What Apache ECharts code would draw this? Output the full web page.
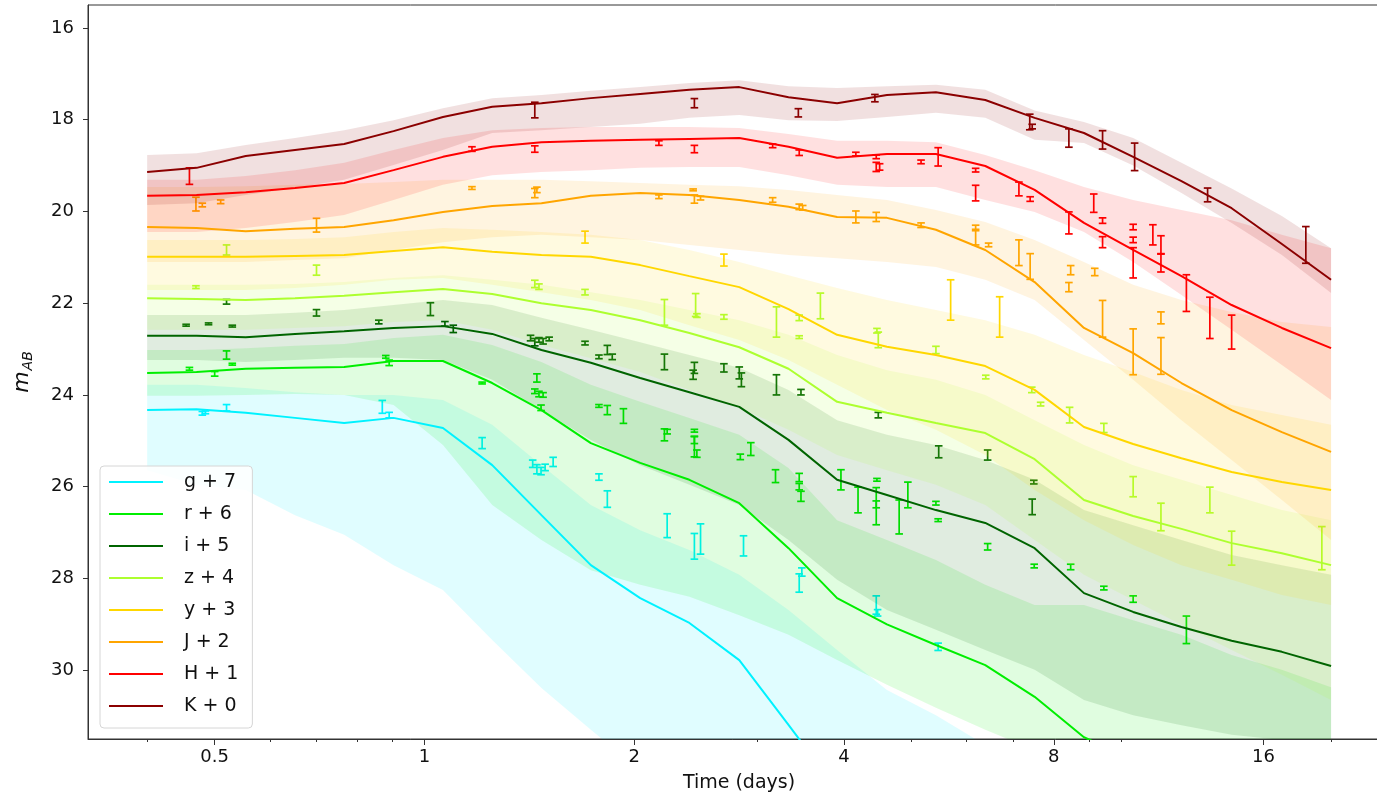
<!DOCTYPE html>
<html>
<head>
<meta charset="utf-8">
<script src="https://cdn.jsdelivr.net/npm/echarts@6/dist/echarts.min.js"></script>
<style>
  html, body { margin: 0; padding: 0; background: #ffffff; }
  #chart { width: 1377px; height: 797px; }
</style>
</head>
<body>
<div id="chart"></div>
<script>
// Model time grid (days)
const times = [0.4, 0.471, 0.554, 0.652, 0.767, 0.903, 1.063, 1.251, 1.472, 1.733, 2.04, 2.4, 2.83, 3.33, 3.91, 4.61, 5.42, 6.38, 7.51, 8.84, 10.4, 12.2, 14.4, 17.0, 20.0];

// Axis ticks
const xMajorTicks = [0.5, 1, 2, 4, 8, 16];
const xMinorTicks = [0.4, 0.6, 0.7, 0.8, 0.9, 3, 5, 6, 7, 9, 10, 20];
const yTicks = [16, 18, 20, 22, 24, 26, 28, 30];

// g + 7
const gLine = [24.33,24.31,24.39,24.50,24.61,24.50,24.72,25.53,26.62,27.71,28.43,28.97,29.78,31.19,32.61,33.48,34.14,34.79,35.45,35.99,36.53,36.97,37.41,37.73,38.06];
const gLow  = [23.78,23.78,23.85,23.94,24.00,24.00,24.11,24.65,25.53,26.40,26.95,27.38,27.92,28.69,29.56,30.43,30.98,31.63,32.28,32.83,33.37,33.92,34.36,34.79,35.23];
const gHigh = [25.64,25.96,26.07,26.62,27.05,27.71,28.25,29.34,30.39,31.30,32.18,33.05,33.92,34.79,35.66,36.53,37.18,37.84,38.49,39.15,39.59,40.02,40.46,40.90,41.34];
const gPts = [[0.48,24.40,0.04],[0.485,24.38,0.03],[0.52,24.28,0.07],[0.87,24.26,0.14],[0.89,24.44,0.06],[1.21,25.05,0.12],[1.43,25.50,0.08],[1.45,25.62,0.10],[1.47,25.66,0.08],[1.49,25.58,0.07],[1.53,25.46,0.10],[1.78,25.79,0.07],[1.83,26.27,0.18],[2.23,26.85,0.26],[2.44,27.30,0.28],[2.49,27.14,0.33],[2.87,27.29,0.22],[3.45,28.10,0.20],[3.48,27.86,0.09],[4.45,28.58,0.20],[4.47,28.75,0.07],[5.46,29.49,0.08]];

// r + 6
const rLine = [23.52,23.50,23.43,23.41,23.39,23.26,23.26,23.74,24.33,25.05,25.48,25.85,26.36,27.34,28.43,29.00,29.45,29.89,30.58,31.46,31.96,32.39,32.83,33.16,33.48];
const rLow  = [23.02,23.02,22.98,22.93,22.89,22.76,22.69,22.91,23.28,23.78,24.15,24.50,24.87,25.59,26.73,27.16,27.60,28.14,28.58,28.58,28.91,29.23,29.67,29.99,30.37];
const rHigh = [24.02,24.02,24.00,23.98,24.00,24.22,25.09,26.40,27.16,27.82,28.14,28.40,28.80,29.23,29.78,30.32,30.82,31.30,31.74,32.18,32.61,33.05,33.48,33.81,34.14];
const rPts = [[0.46,23.43,0.03],[0.50,23.54,0.05],[0.52,23.13,0.09],[0.53,23.33,0.02],[0.88,23.17,0.03],[0.89,23.30,0.06],[1.21,23.74,0.02],[1.45,23.63,0.09],[1.44,23.92,0.05],[1.46,23.98,0.06],[1.48,24.00,0.05],[1.47,24.28,0.06],[1.78,24.24,0.03],[1.83,24.33,0.10],[1.93,24.46,0.16],[2.21,24.87,0.13],[2.23,24.80,0.05],[2.44,24.78,0.03],[2.44,24.98,0.08],[2.44,25.13,0.22],[2.46,25.28,0.08],[2.84,25.35,0.06],[2.94,25.18,0.14],[3.19,25.77,0.14],[3.45,25.80,0.09],[3.45,26.00,0.07],[3.47,26.21,0.11],[3.96,25.85,0.22],[4.19,26.29,0.28],[4.45,26.24,0.22],[4.45,26.57,0.26],[4.46,25.85,0.03],[4.80,26.66,0.37],[4.94,26.18,0.28],[5.42,26.36,0.04],[5.46,26.73,0.03],[6.43,27.31,0.07],[7.50,27.73,0.04],[8.46,27.75,0.06],[9.44,28.21,0.04],[10.4,28.45,0.07],[12.4,29.12,0.30]];

// i + 5
const iLine = [22.71,22.71,22.74,22.67,22.61,22.54,22.50,22.67,23.02,23.30,23.63,23.94,24.26,24.98,25.85,26.18,26.51,26.79,27.34,28.32,28.73,29.06,29.36,29.60,29.91];
const iLow  = [22.26,22.26,22.26,22.21,22.15,22.04,21.93,22.04,22.32,22.58,22.85,23.13,23.41,23.89,24.55,24.87,25.09,25.42,25.85,26.51,26.84,27.16,27.49,27.71,27.92];
const iHigh = [23.24,23.24,23.28,23.24,23.19,23.19,23.24,23.67,24.33,24.98,25.53,25.96,26.40,27.16,28.03,28.69,29.12,29.56,29.99,30.65,30.98,31.20,31.41,31.52,31.63];
const iPts = [[0.455,22.48,0.02],[0.49,22.45,0.02],[0.53,22.50,0.02],[0.52,21.97,0.05],[0.70,22.21,0.07],[0.86,22.41,0.04],[1.02,22.13,0.14],[1.07,22.45,0.05],[1.10,22.56,0.08],[1.42,22.76,0.06],[1.44,22.85,0.08],[1.46,22.80,0.05],[1.48,22.83,0.06],[1.51,22.78,0.04],[1.70,22.87,0.04],[1.78,23.17,0.04],[1.83,23.02,0.10],[1.86,23.17,0.06],[2.21,23.28,0.17],[2.44,23.41,0.12],[2.43,23.56,0.10],[2.69,23.41,0.09],[2.83,23.52,0.13],[2.85,23.67,0.15],[3.20,23.78,0.22],[3.47,23.94,0.06],[4.48,24.44,0.06],[5.47,25.24,0.13],[6.43,25.31,0.11],[7.49,25.90,0.04],[7.45,26.44,0.17]];

// z + 4
const zLine = [21.89,21.91,21.93,21.89,21.84,21.76,21.69,21.80,22.00,22.15,22.37,22.65,22.96,23.43,24.15,24.39,24.61,24.83,25.40,26.29,26.64,26.92,27.23,27.45,27.71];
const zLow  = [21.60,21.60,21.60,21.58,21.54,21.45,21.39,21.49,21.60,21.76,21.93,22.15,22.37,22.69,23.13,23.46,23.67,24.00,24.55,25.09,25.53,25.85,26.18,26.51,26.73];
const zHigh = [22.58,22.58,22.58,22.54,22.50,22.41,22.37,22.58,22.91,23.20,23.50,23.89,24.28,24.76,25.31,25.64,25.96,26.40,27.16,27.92,28.47,29.01,29.56,30.10,30.65];
const zPts = [[0.47,21.65,0.03],[0.52,20.84,0.11],[0.70,21.28,0.11],[1.44,21.58,0.08],[1.46,21.64,0.06],[1.70,21.76,0.06],[2.21,22.20,0.28],[2.45,22.04,0.25],[2.46,22.27,0.04],[2.69,22.30,0.05],[3.20,22.41,0.33],[3.45,22.32,0.06],[3.45,22.74,0.03],[3.70,22.06,0.28],[4.48,22.80,0.17],[4.46,22.60,0.05],[5.42,23.02,0.08],[6.39,23.61,0.04],[7.44,23.89,0.06],[7.66,24.20,0.04],[8.43,24.44,0.17],[9.44,24.72,0.10],[10.4,26.00,0.22],[11.4,26.66,0.30],[13.4,26.29,0.28],[14.4,27.34,0.37],[19.4,27.34,0.47]];

// y + 3
const yLine = [20.99,20.99,20.99,20.97,20.95,20.86,20.78,20.88,20.95,20.99,21.17,21.41,21.65,22.13,22.69,22.95,23.13,23.37,23.89,24.70,25.07,25.38,25.68,25.90,26.07];
const yLow  = [20.62,20.62,20.62,20.60,20.56,20.45,20.36,20.40,20.45,20.51,20.62,20.84,21.10,21.39,21.67,21.93,22.15,22.37,22.69,23.13,23.50,23.89,24.22,24.44,24.65];
const yHigh = [21.71,21.71,21.71,21.67,21.60,21.49,21.45,21.60,21.76,21.93,22.15,22.48,22.80,23.24,23.78,24.33,24.76,25.31,26.07,26.73,27.27,27.71,28.03,28.36,28.58];
const yPts = [[1.70,20.56,0.13],[2.69,21.06,0.13],[5.69,21.93,0.44],[6.69,22.30,0.44]];

// J + 2
const jLine = [20.34,20.36,20.43,20.38,20.34,20.19,20.01,19.88,19.82,19.66,19.60,19.64,19.75,19.90,20.12,20.14,20.40,20.84,21.54,22.54,23.09,23.74,24.33,24.81,25.24];
const jLow  = [19.47,19.47,19.45,19.42,19.40,19.36,19.31,19.31,19.31,19.34,19.38,19.42,19.45,19.53,19.64,19.75,19.97,20.23,20.62,21.10,21.60,21.93,22.19,22.41,22.52];
const jHigh = [21.10,21.10,21.10,21.06,21.02,20.84,20.67,20.56,20.51,20.56,20.62,20.73,20.84,20.95,21.02,21.10,21.21,21.49,21.93,22.80,23.67,24.55,25.42,26.29,27.16];
const jPts = [[0.47,19.84,0.15],[0.48,19.86,0.04],[0.51,19.79,0.04],[0.70,20.30,0.15],[1.17,19.49,0.03],[1.44,19.60,0.10],[1.45,19.53,0.06],[2.17,19.68,0.04],[2.43,19.53,0.02],[2.44,19.73,0.09],[2.49,19.71,0.04],[3.16,19.75,0.05],[3.45,19.90,0.06],[3.49,19.92,0.05],[4.16,20.12,0.13],[4.45,20.12,0.10],[5.16,20.30,0.05],[6.18,20.36,0.06],[6.18,20.56,0.17],[6.45,20.73,0.04],[7.13,20.90,0.28],[7.40,21.20,0.28],[8.46,21.28,0.10],[8.41,21.65,0.10],[9.16,21.32,0.08],[9.40,22.34,0.40],[10.4,23.06,0.50],[11.4,22.32,0.13],[11.4,23.15,0.40]];

// H + 1
const hLine = [19.66,19.64,19.58,19.49,19.38,19.10,18.81,18.59,18.49,18.46,18.44,18.42,18.40,18.59,18.83,18.75,18.75,19.01,19.53,20.25,20.84,21.41,22.04,22.54,22.98];
const hLow  = [19.31,19.31,19.23,19.10,18.94,18.66,18.40,18.23,18.18,18.16,18.16,18.16,18.18,18.31,18.46,18.46,18.49,18.77,19.10,19.47,19.75,19.97,20.19,20.51,20.80];
const hHigh = [20.45,20.45,20.36,20.23,20.08,19.75,19.42,19.21,19.14,19.10,19.05,19.03,19.03,19.21,19.42,19.47,19.47,19.75,20.01,20.45,21.10,21.82,22.58,23.35,24.11];
const hPts = [[0.46,19.23,0.18],[1.17,18.64,0.05],[1.44,18.64,0.07],[2.17,18.51,0.05],[2.44,18.64,0.08],[3.16,18.57,0.04],[3.45,18.72,0.06],[4.16,18.75,0.04],[4.45,18.81,0.04],[4.45,19.03,0.10],[4.50,19.03,0.07],[5.16,18.92,0.04],[5.46,18.81,0.20],[6.18,19.10,0.04],[6.18,19.60,0.17],[7.13,19.51,0.15],[7.40,19.73,0.05],[8.41,20.25,0.24],[9.13,19.82,0.20],[9.40,20.20,0.06],[9.40,20.67,0.12],[10.4,20.34,0.06],[10.4,20.62,0.06],[10.4,21.12,0.33],[11.1,20.51,0.22],[11.4,20.73,0.20],[11.4,21.12,0.20],[12.4,21.78,0.40],[13.4,22.32,0.45],[14.4,22.63,0.37]];

// K + 0
const kLine = [19.14,19.05,18.79,18.66,18.53,18.25,17.94,17.72,17.64,17.53,17.44,17.35,17.29,17.51,17.64,17.46,17.40,17.57,17.96,18.29,18.81,19.34,19.93,20.71,21.49];
const kLow  = [18.77,18.73,18.55,18.40,18.23,18.01,17.75,17.53,17.46,17.37,17.29,17.20,17.14,17.27,17.31,17.27,17.24,17.35,17.80,18.05,18.40,18.94,19.50,20.10,20.80];
const kHigh = [19.86,19.82,19.64,19.49,19.31,18.99,18.66,18.29,18.23,18.16,18.09,17.96,17.90,18.01,18.03,17.94,17.85,17.96,18.44,18.51,19.00,19.60,20.25,20.95,21.78];
const kPts = [[1.44,17.79,0.17],[2.44,17.64,0.10],[3.44,17.85,0.09],[4.43,17.53,0.08],[7.39,18.05,0.17],[7.45,18.15,0.05],[8.41,18.40,0.20],[9.40,18.44,0.20],[10.45,18.81,0.30],[13.3,19.64,0.15],[18.4,20.73,0.40]];

const FONT = 'DejaVu Sans';
const TEXT = '#111111';

const bands = [
  { name: 'g + 7', color: '#00f2ff', line: gLine, low: gLow, high: gHigh, pts: gPts },
  { name: 'r + 6', color: '#00ee00', line: rLine, low: rLow, high: rHigh, pts: rPts },
  { name: 'i + 5', color: '#006400', line: iLine, low: iLow, high: iHigh, pts: iPts },
  { name: 'z + 4', color: '#adff2f', line: zLine, low: zLow, high: zHigh, pts: zPts },
  { name: 'y + 3', color: '#ffd700', line: yLine, low: yLow, high: yHigh, pts: yPts },
  { name: 'J + 2', color: '#ffa500', line: jLine, low: jLow, high: jHigh, pts: jPts },
  { name: 'H + 1', color: '#ff0000', line: hLine, low: hLow, high: hHigh, pts: hPts },
  { name: 'K + 0', color: '#8b0000', line: kLine, low: kLow, high: kHigh, pts: kPts }
];

// Shaded range: one polygon per band, built on the first item from every row
function bandRenderer(color) {
  return function (params, api) {
    if (params.dataIndexInside !== 0) return null;
    const n = params.dataInsideLength;
    const upper = [], lower = [];
    for (let j = 0; j < n; j++) {
      const t = api.value(0, j);
      upper.push(api.coord([t, api.value(1, j)]));
      lower.push(api.coord([t, api.value(2, j)]));
    }
    const cs = params.coordSys;
    return {
      type: 'polygon',
      shape: { points: upper.concat(lower.reverse()) },
      style: { fill: color, opacity: 0.12, stroke: null },
      clipPath: { type: 'rect', shape: { x: cs.x, y: cs.y, width: cs.width, height: cs.height } }
    };
  };
}

function errorBarRenderer(color) {
  return function (params, api) {
    const t = api.value(0), m = api.value(1), e = api.value(2);
    const a = api.coord([t, m - e]);
    const b = api.coord([t, m + e]);
    const x = a[0], cap = 3.8;
    const style = { stroke: color, lineWidth: 1.7, fill: null };
    return {
      type: 'group',
      children: [
        { type: 'line', shape: { x1: x, y1: a[1], x2: x, y2: b[1] }, style: style },
        { type: 'line', shape: { x1: x - cap, y1: a[1], x2: x + cap, y2: a[1] }, style: style },
        { type: 'line', shape: { x1: x - cap, y1: b[1], x2: x + cap, y2: b[1] }, style: style }
      ]
    };
  };
}

const series = [];
bands.forEach(function (b) {
  series.push({
    type: 'custom', silent: true, clip: true,
    dimensions: ['t', 'lo', 'hi'],
    encode: { x: 0, y: [1, 2] },
    data: times.map(function (t, i) { return [t, b.low[i], b.high[i]]; }),
    renderItem: bandRenderer(b.color)
  });
  series.push({
    type: 'line', name: b.name, symbol: 'none', silent: true,
    data: times.map(function (t, i) { return [t, b.line[i]]; }),
    lineStyle: { color: b.color, width: 2 },
    itemStyle: { color: b.color },
    color: b.color
  });
  series.push({
    type: 'custom', silent: true,
    dimensions: ['t', 'm', 'e'],
    encode: { x: 0, y: 1 },
    data: b.pts,
    renderItem: errorBarRenderer(b.color)
  });
});

const chart = echarts.init(document.getElementById('chart'), null, { renderer: 'canvas' });
chart.setOption({
  animation: false,
  backgroundColor: '#ffffff',
  grid: {
    left: 88, top: 5, width: 1302, height: 734,
    show: true, borderColor: '#333333', borderWidth: 1,
    containLabel: false, outerBoundsMode: 'none'
  },
  legend: {
    data: bands.map(function (b) { return b.name; }),
    orient: 'vertical',
    left: 100, top: 466,
    icon: 'rect',
    itemWidth: 54, itemHeight: 2, itemGap: 12,
    padding: [6, 14, 12, 9],
    backgroundColor: 'rgba(255,255,255,0.85)',
    borderColor: '#d6d6d6', borderWidth: 1, borderRadius: 4,
    selectedMode: false,
    textStyle: { fontFamily: FONT, fontSize: 19, color: TEXT, lineHeight: 20, padding: [0, 0, 0, 16] }
  },
  xAxis: [
    {
      type: 'log', logBase: 2, min: 0.329, max: 24.3,
      name: 'Time (days)', nameLocation: 'middle', nameGap: 35,
      nameTextStyle: { fontFamily: FONT, fontSize: 19, color: TEXT },
      axisLine: { show: true, lineStyle: { color: '#333333', width: 1 } },
      axisTick: { show: true, length: 6, customValues: xMajorTicks, lineStyle: { color: '#333333' } },
      axisLabel: { customValues: xMajorTicks, margin: 9, fontFamily: FONT, fontSize: 18, color: TEXT },
      splitLine: { show: false },
      minorTick: { show: false }
    },
    {
      type: 'log', logBase: 2, min: 0.329, max: 24.3,
      position: 'bottom',
      axisLine: { show: false },
      axisTick: { show: true, length: 3, customValues: xMinorTicks, lineStyle: { color: '#333333' } },
      axisLabel: { show: false },
      splitLine: { show: false }
    }
  ],
  yAxis: {
    type: 'value', inverse: true, min: 15.5, max: 31.5,
    name: '{m|m}{s|AB}', nameLocation: 'middle', nameGap: 53, nameRotate: 90,
    nameTextStyle: {
      rich: {
        m: { fontFamily: FONT, fontSize: 22, fontStyle: 'italic', color: TEXT },
        s: { fontFamily: FONT, fontSize: 14, fontStyle: 'italic', color: TEXT, padding: [12, 0, 0, 1] }
      }
    },
    axisLine: { show: true, lineStyle: { color: '#333333', width: 1 } },
    axisTick: { show: true, length: 5, customValues: yTicks, lineStyle: { color: '#333333' } },
    axisLabel: { customValues: yTicks, margin: 14, fontFamily: FONT, fontSize: 18, color: TEXT },
    splitLine: { show: false }
  },
  series: series
});
</script>
</body>
</html>
